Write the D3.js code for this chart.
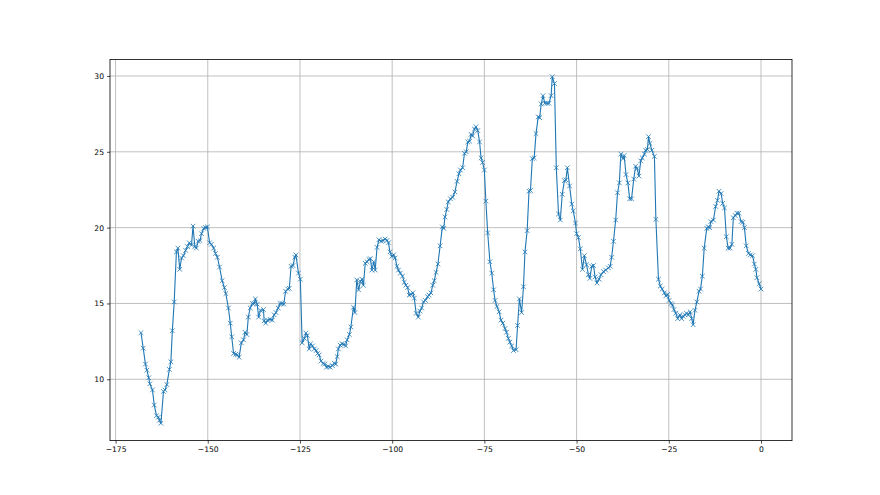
<!DOCTYPE html>
<html>
<head>
<meta charset="utf-8">
<script src="https://cdn.jsdelivr.net/npm/d3@7"></script>
<style>
  body { margin: 0; background: #fff; }
  svg { display: block; }
  .tick text { font-family: "DejaVu Sans", sans-serif; font-size: 7.6px; fill: #000; }
</style>
</head>
<body>
<div id="chart"></div>
<script>
// figure size and axes box, same fractions as a default matplotlib figure
var width = 880,
	height = 495,
	LEFT = 110,
	RIGHT = 792,
	TOP = 59.4,
	BOTTOM = 440.6,
	LINE_COLOR = "#1f77b4",
	MARKER = 2.3;

// values
var xs = [-168.1, -167.5, -166.9, -166.5, -166.0, -165.7, -165.0, -164.5, -163.9, -163.4, -163.1, -162.7,
	-162.0, -161.6, -161.1, -160.4, -160.0, -159.6, -159.1, -158.5, -158.1, -157.6, -157.1, -156.6,
	-156.0, -155.5, -155.0, -154.4, -154.0, -153.5, -153.1, -152.6, -152.1, -151.7, -151.1, -150.6,
	-150.1, -149.5, -149.0, -148.4, -147.9, -147.4, -146.8, -146.1, -145.5, -145.1, -144.4, -143.9,
	-143.5, -143.0, -142.4, -142.0, -141.5, -140.9, -140.3, -139.9, -139.4, -139.0, -138.5, -137.9,
	-137.4, -137.1, -136.6, -136.2, -135.7, -134.9, -134.7, -134.3, -133.8, -133.1, -132.5, -132.0,
	-131.5, -130.9, -130.4, -129.9, -129.4, -128.9, -128.3, -127.9, -127.4, -126.9, -126.4, -126.1,
	-125.4, -124.9, -124.4, -123.8, -123.4, -123.0, -122.5, -122.1, -121.6, -121.1, -120.6, -120.2,
	-119.8, -119.3, -118.7, -118.3, -117.8, -117.3, -116.8, -116.2, -115.7, -115.3, -114.9, -114.6,
	-114.1, -113.6, -113.1, -112.6, -112.2, -111.6, -111.2, -110.5, -110.1, -109.6, -109.1, -108.6,
	-108.2, -107.8, -107.3, -106.8, -106.3, -105.9, -105.5, -105.0, -104.6, -104.1, -103.6, -103.0,
	-102.5, -101.9, -101.4, -101.0, -100.6, -100.1, -99.6, -99.2, -98.7, -98.3, -97.8, -97.2,
	-96.7, -96.3, -95.8, -95.4, -94.9, -94.4, -94.0, -93.5, -92.9, -92.5, -92.0, -91.5,
	-91.0, -90.4, -90.0, -89.5, -89.0, -88.6, -88.1, -87.6, -87.0, -86.4, -86.0, -85.7,
	-85.2, -84.8, -84.2, -83.6, -83.0, -82.4, -81.9, -81.5, -80.9, -80.4, -79.9, -79.5,
	-79.0, -78.6, -78.2, -77.7, -77.3, -76.8, -76.3, -75.9, -75.5, -75.0, -74.6, -74.1,
	-73.5, -73.0, -72.5, -72.1, -71.6, -71.0, -70.5, -70.0, -69.4, -69.0, -68.5, -68.1,
	-67.6, -67.1, -66.4, -66.0, -65.5, -64.9, -64.4, -64.0, -63.4, -62.9, -62.5, -62.0,
	-61.5, -61.0, -60.4, -60.0, -59.6, -59.1, -58.6, -58.0, -57.5, -56.9, -56.6, -56.0,
	-55.5, -54.9, -54.4, -53.9, -53.3, -52.9, -52.5, -51.9, -51.3, -50.9, -50.3, -50.0,
	-49.5, -49.0, -48.4, -47.9, -47.3, -46.8, -46.4, -45.9, -45.4, -45.0, -44.5, -43.9,
	-43.4, -42.7, -42.1, -41.4, -40.9, -40.5, -40.0, -39.4, -38.9, -38.4, -38.0, -37.4,
	-37.1, -36.6, -36.1, -35.6, -35.1, -34.5, -34.0, -33.6, -33.1, -32.6, -32.2, -31.6,
	-31.3, -30.8, -30.5, -30.1, -29.6, -28.9, -28.5, -27.8, -27.3, -26.8, -26.2, -25.8,
	-25.3, -24.9, -24.4, -24.0, -23.6, -23.1, -22.6, -22.0, -21.5, -21.1, -20.6, -20.2,
	-19.7, -19.2, -18.8, -18.4, -17.9, -17.4, -16.8, -16.4, -15.9, -15.4, -14.7, -14.3,
	-13.9, -13.6, -12.9, -12.3, -11.8, -11.4, -10.8, -10.4, -9.9, -9.4, -8.9, -8.4,
	-7.9, -7.5, -7.0, -6.5, -6.0, -5.4, -4.9, -4.5, -4.0, -3.4, -2.9, -2.3,
	-1.8, -1.4, -1.1, -0.5, 0.0];

var ys = [13.07, 12.05, 11.0, 10.6, 10.1, 9.7, 9.3, 8.3, 7.6, 7.5, 7.3, 7.1,
	9.2, 9.3, 9.65, 10.65, 11.15, 13.2, 15.1, 18.4, 18.65, 17.25, 18.0, 18.15,
	18.5, 18.75, 19.0, 18.85, 20.1, 18.75, 18.65, 19.1, 19.15, 19.6, 19.95, 20.0,
	20.05, 19.0, 18.9, 18.65, 18.3, 18.05, 17.4, 16.5, 16.05, 15.65, 14.7, 13.7,
	12.8, 11.7, 11.65, 11.6, 11.45, 12.4, 12.6, 13.1, 12.95, 14.1, 14.7, 15.0,
	15.0, 15.3, 14.95, 14.1, 14.55, 14.6, 13.85, 13.7, 13.9, 13.95, 13.9, 14.25,
	14.4, 14.7, 15.0, 15.0, 14.95, 15.8, 15.95, 16.0, 17.45, 17.5, 18.05, 18.2,
	17.0, 16.6, 12.4, 12.7, 13.05, 12.9, 12.0, 12.35, 12.2, 12.0, 11.9, 11.7,
	11.6, 11.2, 11.05, 11.0, 10.8, 10.85, 10.8, 10.9, 11.05, 11.0, 11.5, 12.0,
	12.25, 12.35, 12.3, 12.2, 12.6, 12.95, 13.45, 14.75, 14.4, 16.55, 15.9, 16.45,
	16.6, 16.2, 17.65, 17.75, 17.9, 17.95, 17.2, 17.75, 17.2, 18.7, 19.2, 19.1,
	19.15, 19.25, 19.15, 19.0, 18.4, 18.1, 18.2, 18.0, 17.45, 17.2, 17.0, 16.8,
	16.4, 16.2, 16.05, 15.55, 15.6, 15.7, 15.35, 14.35, 14.1, 14.5, 14.7, 15.1,
	15.2, 15.45, 15.55, 15.7, 16.2, 16.5, 17.05, 17.6, 18.8, 20.05, 19.95, 20.7,
	21.2, 21.7, 21.9, 22.0, 22.35, 23.05, 23.55, 23.8, 23.95, 24.9, 25.0, 25.65,
	25.7, 26.15, 26.05, 26.5, 26.65, 26.4, 25.65, 24.6, 24.3, 23.8, 21.75, 19.65,
	17.75, 17.0, 15.9, 15.2, 14.8, 14.45, 13.9, 13.7, 13.35, 13.1, 12.7, 12.45,
	12.2, 11.9, 11.95, 13.55, 15.3, 14.4, 16.1, 18.4, 19.8, 22.4, 22.45, 24.55,
	24.6, 26.2, 27.3, 27.25, 28.15, 28.7, 28.2, 28.2, 28.2, 28.7, 29.95, 29.5,
	23.95, 20.9, 20.5, 22.2, 23.1, 23.15, 23.95, 22.75, 21.55, 21.1, 20.3, 19.6,
	19.35, 18.6, 17.25, 18.15, 17.55, 16.9, 16.65, 17.45, 17.5, 16.75, 16.35, 16.6,
	16.9, 17.1, 17.2, 17.35, 17.45, 18.05, 19.1, 20.5, 22.3, 22.95, 24.85, 24.55,
	24.75, 23.5, 22.95, 21.9, 21.9, 23.2, 24.05, 23.9, 23.4, 24.4, 24.6, 24.85,
	25.1, 25.15, 26.0, 25.55, 25.1, 24.7, 20.55, 16.6, 16.15, 15.95, 15.7, 15.5,
	15.6, 15.2, 15.0, 14.9, 14.6, 14.35, 14.0, 14.25, 14.0, 14.15, 14.25, 14.35,
	14.25, 14.45, 14.0, 13.6, 14.55, 15.1, 15.8, 15.95, 16.8, 18.65, 19.95, 20.05,
	20.0, 20.4, 20.5, 21.4, 21.8, 22.4, 22.25, 21.6, 21.3, 19.4, 18.65, 18.65,
	18.9, 20.65, 20.8, 20.95, 20.95, 20.4, 20.35, 20.0, 18.8, 18.3, 18.2, 18.15,
	17.6, 17.25, 16.7, 16.3, 15.95];

var xTicks = [-175, -150, -125, -100, -75, -50, -25, 0];
var yTicks = [10, 15, 20, 25, 30];

var data = xs.map(function(x, i) { return { x: x, y: ys[i] }; });

// autoscale like matplotlib: data extent plus 5% on each side
var pad = function(ext) {
	var m = (ext[1] - ext[0]) * 0.05;
	return [ext[0] - m, ext[1] + m];
};

var x = d3.scaleLinear().domain(pad(d3.extent(xs))).range([LEFT, RIGHT]);
var y = d3.scaleLinear().domain(pad(d3.extent(ys))).range([BOTTOM, TOP]);

var svg = d3.select("#chart").append("svg")
	.attr("width", width)
	.attr("height", height);

// grid lines
var grid = svg.append("g").attr("class", "grid");
grid.selectAll(".gx")
	.data(xTicks)
	.enter()
	.append("line")
	.attr("x1", function(d) { return x(d); })
	.attr("x2", function(d) { return x(d); })
	.attr("y1", TOP)
	.attr("y2", BOTTOM)
	.style("stroke", "#b0b0b0")
	.style("stroke-width", 0.8);
grid.selectAll(".gy")
	.data(yTicks)
	.enter()
	.append("line")
	.attr("x1", LEFT)
	.attr("x2", RIGHT)
	.attr("y1", function(d) { return y(d); })
	.attr("y2", function(d) { return y(d); })
	.style("stroke", "#b0b0b0")
	.style("stroke-width", 0.8);

var fmt = function(d) { return d < 0 ? "\u2212" + Math.abs(d) : String(d); };

// axes
var xAxis = d3.axisBottom(x).tickValues(xTicks).tickFormat(fmt).tickSize(3).tickPadding(3);
var yAxis = d3.axisLeft(y).tickValues(yTicks).tickFormat(fmt).tickSize(3).tickPadding(3);

var gx = svg.append("g").attr("transform", "translate(0," + BOTTOM + ")").call(xAxis);
var gy = svg.append("g").attr("transform", "translate(" + LEFT + ",0)").call(yAxis);
[gx, gy].forEach(function(g) {
	g.select(".domain").remove();
	g.selectAll(".tick line").style("stroke", "#000").style("stroke-width", 0.7);
});

// the series line
var line = d3.line()
	.x(function(d) { return x(d.x); })
	.y(function(d) { return y(d.y); });

svg.append("path")
	.datum(data)
	.attr("d", line)
	.style("fill", "none")
	.style("stroke", LINE_COLOR)
	.style("stroke-width", 1.1)
	.style("stroke-linejoin", "round");

// 'x' markers at each point
svg.append("g").selectAll("path")
	.data(data)
	.enter()
	.append("path")
	.attr("d", function(d) {
		var cx = x(d.x), cy = y(d.y), s = MARKER;
		return "M" + (cx - s) + "," + (cy - s) + "L" + (cx + s) + "," + (cy + s) +
			"M" + (cx - s) + "," + (cy + s) + "L" + (cx + s) + "," + (cy - s);
	})
	.style("stroke", LINE_COLOR)
	.style("stroke-width", 0.8)
	.style("fill", "none");

// frame
svg.append("rect")
	.attr("x", LEFT)
	.attr("y", TOP)
	.attr("width", RIGHT - LEFT)
	.attr("height", BOTTOM - TOP)
	.style("fill", "none")
	.style("stroke", "#000")
	.style("stroke-width", 0.8);
</script>
</body>
</html>
